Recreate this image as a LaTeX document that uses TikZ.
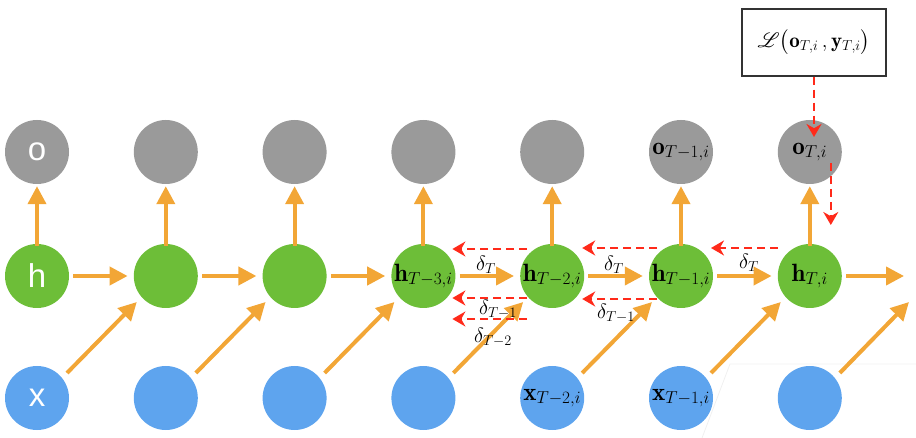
\documentclass[tikz,border=0pt]{standalone}
\usepackage{amsmath}
\usepackage{mathrsfs}
\usepackage{fontspec}
\newfontfamily\lblfont{Liberation Sans}
\usetikzlibrary{arrows.meta,calc}
\DeclareMathSizes{25}{25}{18}{13}
\DeclareMathSizes{21}{21}{15}{11}
\definecolor{ograyc}{HTML}{9A9A9A}
\definecolor{hgreen}{HTML}{6DBE38}
\definecolor{xblue}{HTML}{5EA4EE}
\definecolor{arrorange}{HTML}{F2A636}
\definecolor{bpred}{HTML}{FF2A1A}
\begin{document}
\begin{tikzpicture}[x=1pt,y=-1pt,
  unit/.style={circle, minimum size=64pt, inner sep=0pt, font=\fontsize{25}{30}\selectfont},
  onode/.style={unit, fill=ograyc},
  hnode/.style={unit, fill=hgreen},
  xnode/.style={unit, fill=xblue},
  lbl/.style={text=white, font=\lblfont\fontsize{33}{36}\selectfont},
  fwd/.style={draw=arrorange, line width=4pt, -{Triangle[length=18pt,width=18pt]}},
  bwd/.style={draw=bpred, line width=2.6pt, dash pattern=on 8pt off 5pt, -{Stealth[length=13pt,width=15pt]}},
  dl/.style={inner sep=0pt, font=\fontsize{21}{25}\selectfont},
  lossbox/.style={draw=black!80, line width=1.2pt, minimum width=144pt, minimum height=67pt, inner sep=0pt, font=\fontsize{21}{25}\selectfont}
]
\useasboundingbox (0,0) rectangle (916,438);

% faint artifact lines
\draw[gray!12, line width=0.8pt] (702,438) -- (730,364) -- (916,364);

% output nodes
\node[onode,lbl] (o0) at (37,152) {o};
\node[onode] (o1) at (165.8,152) {};
\node[onode] (o2) at (294.6,152) {};
\node[onode] (o3) at (423.4,152) {};
\node[onode] (o4) at (552.2,152) {};
\node[onode] (o5) at (681,152) {$\mathbf{o}_{T-1,i}$};
\node[onode] (o6) at (809.8,152) {$\mathbf{o}_{T,i}$};

% hidden nodes
\node[hnode,lbl] (h0) at (37,276) {h};
\node[hnode] (h1) at (165.8,276) {};
\node[hnode] (h2) at (294.6,276) {};
\node[hnode] (h3) at (423.4,276) {$\mathbf{h}_{T-3,i}$};
\node[hnode] (h4) at (552.2,276) {$\mathbf{h}_{T-2,i}$};
\node[hnode] (h5) at (681,276) {$\mathbf{h}_{T-1,i}$};
\node[hnode] (h6) at (809.8,276) {$\mathbf{h}_{T,i}$};

% input nodes
\node[xnode,lbl] (x0) at (37,398) {x};
\node[xnode] (x1) at (165.8,398) {};
\node[xnode] (x2) at (294.6,398) {};
\node[xnode] (x3) at (423.4,398) {};
\node[xnode] (x4) at (552.2,398) {$\mathbf{x}_{T-2,i}$};
\node[xnode] (x5) at (681,398) {$\mathbf{x}_{T-1,i}$};
\node[xnode] (x6) at (809.8,398) {};

\coordinate (hend) at (904,276);
\coordinate (dend) at (909,302);

% loss box
\node[lossbox] (loss) at (814,42.5) {$\mathscr{L}\big(\mathbf{o}_{T,i}\,,\mathbf{y}_{T,i}\big)$};

% forward arrows
\foreach \k in {0,...,6}{
  \draw[fwd, shorten <=-2pt, shorten >=2pt] (h\k.north) -- (o\k.south);
}
\foreach \k/\j in {0/1,1/2,2/3,3/4,4/5,5/6}{
  \draw[fwd, shorten <=4pt, shorten >=6pt] (h\k.east) -- (h\j.west);
  \draw[fwd] ([shift={(30,-25)}]x\k.center) -- ([shift={(-29,26)}]h\j.center);
}
\draw[fwd, shorten <=4pt] (h6.east) -- (hend);
\draw[fwd] ([shift={(30,-25)}]x6.center) -- (dend);

% backward (gradient) arrows
\draw[bwd] ($(h4.center)+(-25,-27)$) -- ($(h3.center)+(29,-27)$);
\draw[bwd] ($(h5.center)+(-24,-28)$) -- ($(h4.center)+(30,-28)$);
\draw[bwd] ($(h6.center)+(-32,-28)$) -- ($(h5.center)+(30,-28)$);
\draw[bwd] ($(h4.center)+(-25,22)$) -- ($(h3.center)+(29,22)$);
\draw[bwd] ($(h5.center)+(-24,23)$) -- ($(h4.center)+(30,23)$);
\draw[bwd] ($(h4.center)+(-25,43)$) -- ($(h3.center)+(29,43)$);
\draw[bwd] (loss.south) -- ($(loss.south |- o6.center)+(0,-15)$);
\draw[bwd] ($(o6.center)+(21,11)$) -- ($(h6.center)+(21,-51)$);

% delta labels
\node[dl] (d1) at (486,265) {$\delta_T$};
\node[dl] (d2) at (614,265) {$\delta_T$};
\node[dl] (d3) at (749,263) {$\delta_T$};
\node[dl] (d4) at (498,309) {$\delta_{T-1}$};
\node[dl] (d5) at (616,313) {$\delta_{T-1}$};
\node[dl] (d6) at (493,337) {$\delta_{T-2}$};
\end{tikzpicture}
\end{document}
